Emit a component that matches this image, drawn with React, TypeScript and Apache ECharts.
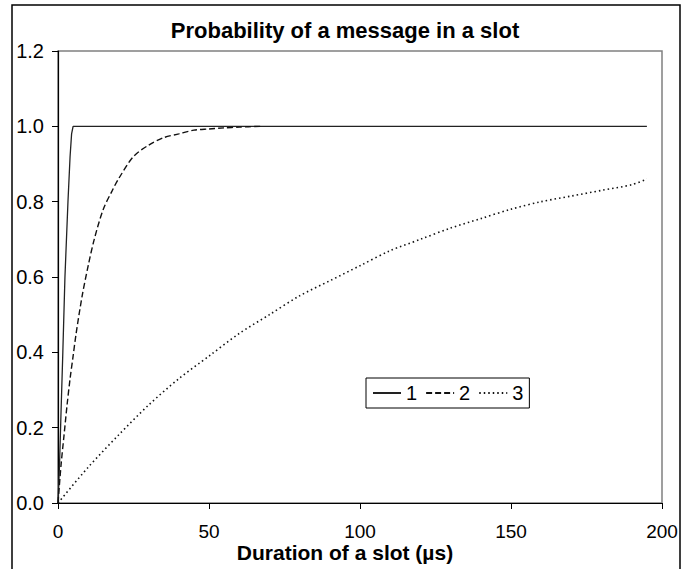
import React, { useEffect, useRef } from "react";
import * as echarts from "echarts";

const titleText = "Probability of a message in a slot";
const xAxisName = "Duration of a slot (µs)";
const seriesNames = ["1", "2", "3"];

const s1X = [0, 0.5, 1, 1.6, 2.3, 3.3, 4, 4.5, 5, 6, 195];
const s1Y = [0, 0.1, 0.24, 0.4, 0.6, 0.8, 0.92, 0.98, 1.0, 1.0, 1.0];

const s2X = [0, 1, 2, 3, 4, 5, 6, 8, 10, 12, 15, 18, 20, 25, 30, 35, 40, 45, 50, 55, 60, 67];
const s2Y = [0, 0.1, 0.18, 0.26, 0.33, 0.39, 0.45, 0.55, 0.63, 0.7, 0.78, 0.83, 0.86, 0.92, 0.95, 0.97, 0.98, 0.99, 0.993, 0.996, 0.998, 1.0];

const s3X = [0, 10, 20, 30, 40, 50, 60, 70, 80, 90, 100, 110, 120, 130, 140, 150, 160, 170, 180, 190, 195];
const s3Y = [0, 0.095, 0.18, 0.26, 0.33, 0.39, 0.45, 0.5, 0.55, 0.59, 0.63, 0.67, 0.7, 0.73, 0.755, 0.78, 0.8, 0.815, 0.83, 0.845, 0.86];

const zip = (xs: number[], ys: number[]) => xs.map((x, i) => [x, ys[i]]);

export default function App() {
  const ref = useRef<HTMLDivElement>(null);
  useEffect(() => {
    if (!ref.current) return;
    const chart = echarts.init(ref.current, null, { renderer: "svg" });
    const font = "Liberation Sans";
    chart.setOption({
      animation: false,
      backgroundColor: "#fff",
      textStyle: { fontFamily: font },
      title: {
        text: titleText,
        left: "center",
        top: 14,
        textStyle: { fontSize: 22, fontWeight: "bold", color: "#000", fontFamily: font },
      },
      graphic: [
        {
          type: "rect",
          shape: { x: 12, y: 5, width: 668, height: 575 },
          style: { fill: "none", stroke: "#000", lineWidth: 1.5 },
          silent: true,
        },
        {
          type: "text",
          left: "center",
          top: 542,
          style: {
            text: xAxisName,
            fontSize: 21,
            fontWeight: "bold",
            fill: "#000",
            fontFamily: font,
          },
          silent: true,
        },
      ],
      legend: {
        left: 366,
        top: 378,
        orient: "horizontal",
        padding: [5, 6, 5, 6],
        itemGap: 8,
        itemWidth: 28,
        itemHeight: 12,
        borderColor: "#000",
        borderWidth: 1,
        data: seriesNames,
        itemStyle: { opacity: 0, color: "transparent", borderWidth: 0 },
        textStyle: { fontSize: 20, color: "#000", fontFamily: font },
      },
      grid: {
        left: 58,
        top: 51,
        width: 604,
        height: 452,
        show: true,
        borderColor: "#808080",
        borderWidth: 1.5,
        backgroundColor: "transparent",
      },
      xAxis: {
        type: "value",
        min: 0,
        max: 200,
        interval: 50,
        axisLine: { show: true, lineStyle: { color: "#000", width: 1.2 } },
        axisTick: { show: true, inside: false, length: 6, lineStyle: { color: "#000" } },
        axisLabel: { fontSize: 19, color: "#000", margin: 19, fontFamily: font },
        splitLine: { show: false },
      },
      yAxis: {
        type: "value",
        min: 0,
        max: 1.2,
        interval: 0.2,
        axisLine: { show: true, lineStyle: { color: "#000", width: 1.2 } },
        axisTick: { show: true, inside: false, length: 6, lineStyle: { color: "#000" } },
        axisLabel: {
          fontSize: 20,
          color: "#000",
          margin: 14,
          fontFamily: font,
          formatter: (v: number) => v.toFixed(1),
        },
        splitLine: { show: false },
      },
      series: [
        {
          name: seriesNames[0],
          type: "line",
          data: zip(s1X, s1Y),
          showSymbol: false,
          symbol: "none",
          lineStyle: { color: "#222", width: 1.3, type: "solid" },
          itemStyle: { color: "#222" },
        },
        {
          name: seriesNames[1],
          type: "line",
          data: zip(s2X, s2Y),
          showSymbol: false,
          symbol: "none",
          smooth: 0.3,
          lineStyle: { color: "#111", width: 1.4, type: [6, 3] },
          itemStyle: { color: "#111" },
        },
        {
          name: seriesNames[2],
          type: "line",
          data: zip(s3X, s3Y),
          showSymbol: false,
          symbol: "none",
          smooth: 0.3,
          lineStyle: { color: "#111", width: 1.6, type: [1.5, 3] },
          itemStyle: { color: "#111" },
        },
      ],
    });
    return () => chart.dispose();
  }, []);
  return (
    <div
      ref={ref}
      style={{ position: "absolute", left: 0, top: 0, width: 690, height: 569 }}
    />
  );
}
